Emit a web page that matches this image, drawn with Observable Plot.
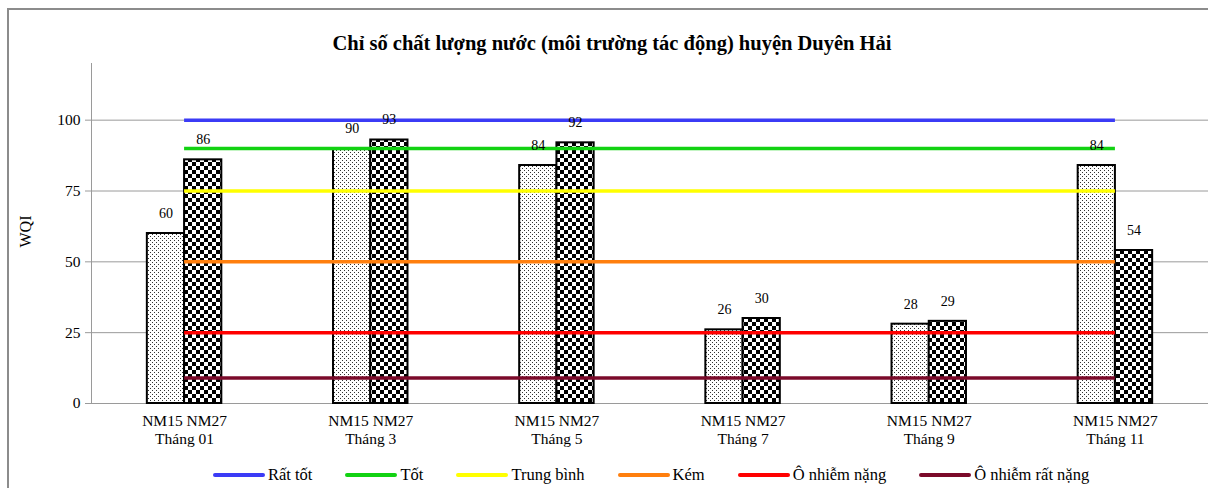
<!DOCTYPE html>
<html>
<head>
<meta charset="utf-8">
<script src="https://cdn.jsdelivr.net/npm/d3@7"></script>
<script src="https://cdn.jsdelivr.net/npm/@observablehq/plot@0.6"></script>
<style>
  body { margin: 0; background: #fff; }
  #wrap { position: relative; width: 1208px; height: 488px; overflow: hidden;
          font-family: "Liberation Serif", "Times New Roman", serif; color: #000; background: #fff; }
  #frame { position: absolute; left: 7px; top: 8px; width: 1400px; height: 700px;
           border: 2px solid #8c8c8c; box-sizing: border-box; pointer-events: none; }
  #title { height: 50px; box-sizing: border-box; padding-top: 31px; padding-left: 16px;
           text-align: center; font-weight: bold; font-size: 20.5px; line-height: 24px; }
  #chart { height: 400px; }
  #chart svg { display: block; }
  #legend { height: 38px; box-sizing: border-box; padding-top: 12px; padding-left: 213px;
            display: flex; align-items: center; font-size: 16.5px; line-height: 18px; }
  .item { display: flex; align-items: center; margin-right: 33px; }
  .swatch { width: 52px; height: 4px; border-radius: 2px; margin-right: 3px; }
</style>
</head>
<body>
<div id="wrap">
  <div id="frame"></div>
  <div id="title"></div>
  <div id="chart"></div>
  <div id="legend"></div>
</div>
<script>
const title = "Chỉ số chất lượng nước (môi trường tác động) huyện Duyên Hải";
const months = ["Tháng 01", "Tháng 3", "Tháng 5", "Tháng 7", "Tháng 9", "Tháng 11"];
const stations = ["NM15", "NM27"];
const nm15 = [60, 90, 84, 26, 28, 84];
const nm27 = [86, 93, 92, 30, 29, 54];
const levels = ["Rất tốt", "Tốt", "Trung bình", "Kém", "Ô nhiễm nặng", "Ô nhiễm rất nặng"];
const levelValues = [100, 90, 75, 50, 25, 9];
const levelColors = ["#3b3bf6", "#12d212", "#ffff00", "#ff7f0e", "#ff0000", "#7b0a2a"];
const yTicks = [0, 25, 50, 75, 100];
const yLabel = "WQI";

document.getElementById("title").textContent = title;

const idx = months.map((m, i) => i);
const barsA = idx.map(i => ({i, v: nm15[i]}));
const barsB = idx.map(i => ({i, v: nm27[i]}));
const bw = 0.2;
const levelData = levels.map((name, k) => ({name, v: levelValues[k], c: levelColors[k]}));

const chart = Plot.plot({
  width: 1208,
  height: 400,
  marginLeft: 91,
  marginRight: 0,
  marginTop: 13,
  marginBottom: 47,
  style: {fontFamily: "'Liberation Serif', 'Times New Roman', serif", fontSize: "13px", color: "#000", background: "#fff", overflow: "visible"},
  x: {type: "linear", domain: [-0.5, months.length - 0.5], axis: null},
  y: {domain: [0, 120], axis: null},
  color: {type: "identity"},
  marks: [
    Plot.ruleY(yTicks, {stroke: "#9a9a9a", strokeWidth: 1}),
    Plot.ruleX([-0.5], {y1: 0, y2: 120, stroke: "#9a9a9a", strokeWidth: 1}),
    Plot.rectY(barsA, {x1: d => d.i - bw, x2: d => d.i, y1: 0, y2: "v", fill: "url(#dotPat)", stroke: "#000", strokeWidth: 2}),
    Plot.rectY(barsB, {x1: d => d.i, x2: d => d.i + bw, y1: 0, y2: "v", fill: "url(#chkPat)", stroke: "#000", strokeWidth: 2}),
    Plot.ruleY(levelData, {x1: 0, x2: months.length - 1, y: "v", stroke: "c", strokeWidth: 3.5}),
    Plot.text(barsA, {x: d => d.i - bw / 2, y: "v", text: d => String(d.v), dy: -20, fontSize: 14}),
    Plot.text(barsB, {x: d => d.i + bw / 2, y: "v", text: d => String(d.v), dy: -20, fontSize: 14}),
    Plot.axisY(yTicks, {tickSize: 6, tickPadding: 5, fontSize: 15.5, stroke: "#9a9a9a", label: null}),
    Plot.text(months, {x: (d, i) => i, frameAnchor: "bottom", lineAnchor: "top", dy: 9,
      text: d => stations.join(" ") + "\n" + d, lineHeight: 1.2, fontSize: 15.5}),
    Plot.text([yLabel], {frameAnchor: "left", rotate: -90, dx: -66, dy: 14, fontSize: 16})
  ]
});

const svg = d3.select(chart);
const defs = svg.insert("defs", ":first-child");
const dot = defs.append("pattern").attr("id", "dotPat").attr("patternUnits", "userSpaceOnUse")
  .attr("width", 4).attr("height", 4);
dot.append("rect").attr("width", 4).attr("height", 4).attr("fill", "#fff");
dot.append("rect").attr("x", 0).attr("y", 0).attr("width", 1).attr("height", 1).attr("fill", "#333");
dot.append("rect").attr("x", 2).attr("y", 2).attr("width", 1).attr("height", 1).attr("fill", "#333");
const chk = defs.append("pattern").attr("id", "chkPat").attr("patternUnits", "userSpaceOnUse")
  .attr("width", 8).attr("height", 8);
chk.append("rect").attr("width", 8).attr("height", 8).attr("fill", "#fff");
chk.append("rect").attr("x", 0).attr("y", 0).attr("width", 4).attr("height", 4).attr("fill", "#000");
chk.append("rect").attr("x", 4).attr("y", 4).attr("width", 4).attr("height", 4).attr("fill", "#000");

document.getElementById("chart").appendChild(chart);

const legend = document.getElementById("legend");
levels.forEach((name, k) => {
  const it = document.createElement("div");
  it.className = "item";
  const sw = document.createElement("div");
  sw.className = "swatch";
  sw.style.background = levelColors[k];
  const tx = document.createElement("span");
  tx.textContent = name;
  it.appendChild(sw);
  it.appendChild(tx);
  legend.appendChild(it);
});
</script>
</body>
</html>
